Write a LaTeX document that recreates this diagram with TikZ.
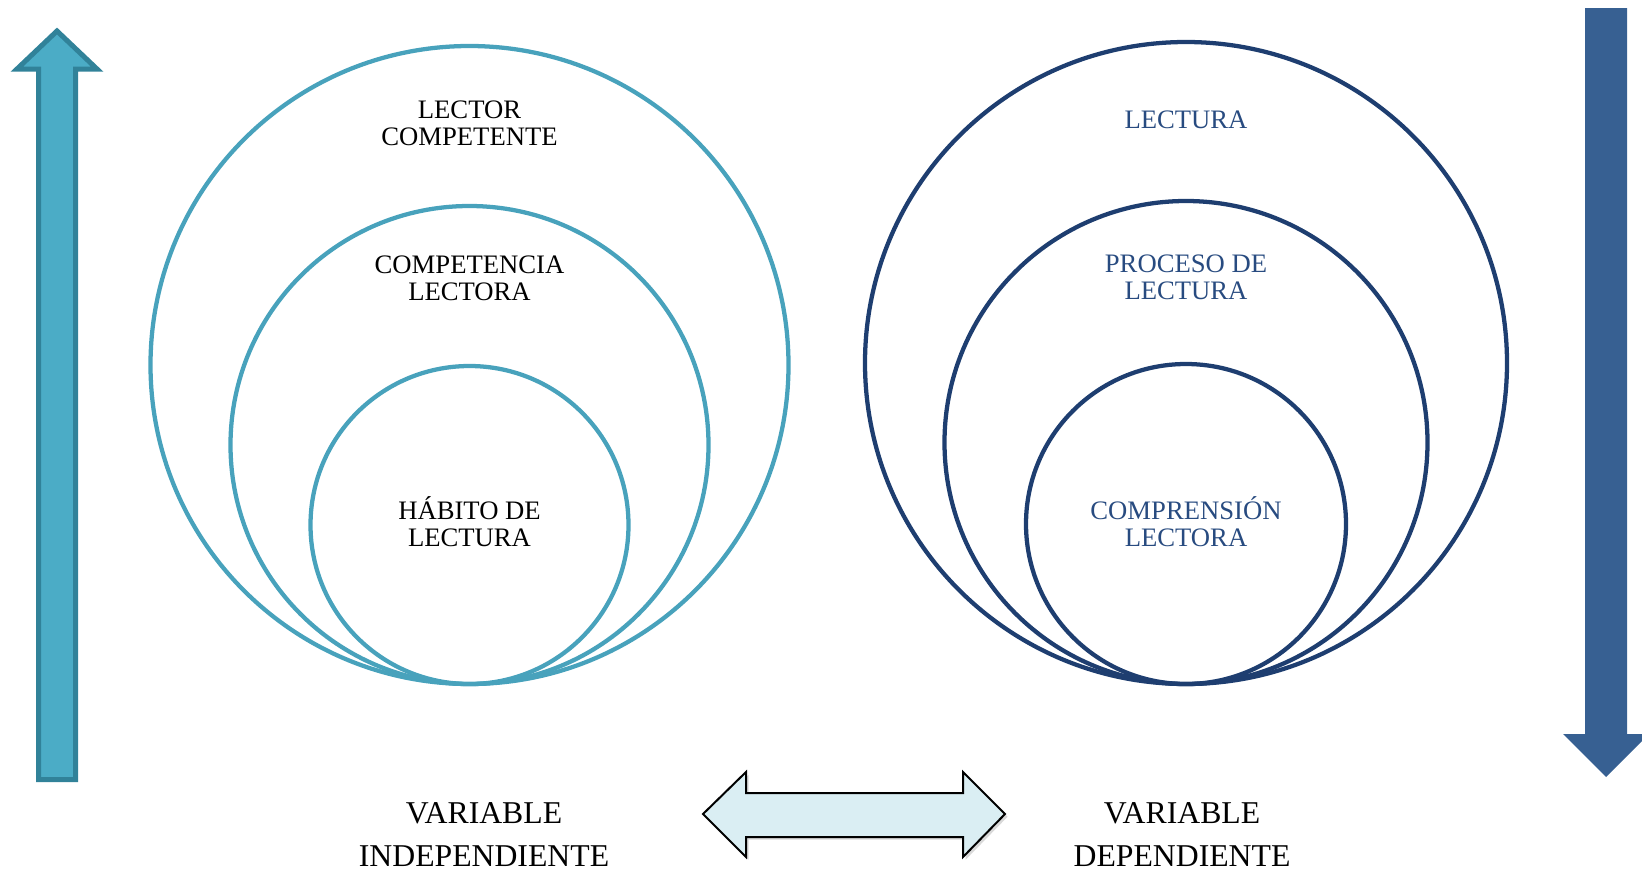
\documentclass[tikz,border=0pt]{standalone}
\usepackage{fontspec}
\setmainfont{Liberation Serif}
\usetikzlibrary{shadows}

\definecolor{ringlight}{RGB}{72,162,188}
\definecolor{ringdark}{RGB}{30,62,112}
\definecolor{txtdark}{RGB}{40,75,128}
\definecolor{uparrowfill}{RGB}{75,172,198}
\definecolor{uparrowline}{RGB}{49,130,153}
\definecolor{downarrowfill}{RGB}{55,96,146}
\definecolor{linkfill}{RGB}{218,238,243}

\begin{document}
\begin{tikzpicture}[x=0.75pt,y=0.75pt,yscale=-1,xscale=1,
  leftring/.style={draw=ringlight,line width=3.2pt},
  rightring/.style={draw=ringdark,line width=3.2pt},
  ringtxt/.style={inner sep=0pt,align=center,font=\fontsize{20}{20.3}\selectfont},
  vartxt/.style={inner sep=0pt,align=center,font=\fontsize{23.8}{32.3}\selectfont}]
\path[use as bounding box] (0,0) rectangle (1642,872);

% Shape: Up Arrow
\draw [draw=uparrowline,fill=uparrowfill,line width=3.75pt,line join=miter]
  (38.5,779.5) -- (38.5,69) -- (17,69) -- (57,31) -- (97,69) -- (75.5,69) -- (75.5,779.5) -- cycle;
% Shape: Down Arrow
\fill [downarrowfill]
  (1585,8) -- (1627,8) -- (1627,734) -- (1649,734) -- (1606,777) -- (1563,734) -- (1585,734) -- cycle;

% Shape: Circle
\draw [leftring] (469.5,365) circle [radius=319];
% Shape: Circle
\draw [leftring] (469.5,445) circle [radius=239];
% Shape: Circle
\draw [leftring] (469.5,525) circle [radius=159];
% Shape: Circle
\draw [rightring] (1186,363) circle [radius=321];
% Shape: Circle
\draw [rightring] (1186,442.5) circle [radius=241.5];
% Shape: Circle
\draw [rightring] (1186,524) circle [radius=160];

% Text Node
\node [ringtxt] (lector) at (469.5,123.5) {LECTOR\\COMPETENTE};
% Text Node
\node [ringtxt] (competencia) at (469.5,278.5) {COMPETENCIA\\LECTORA};
% Text Node
\node [ringtxt] (habito) at (469.5,522) {HÁBITO DE\\LECTURA};
% Text Node
\node [ringtxt,text=txtdark] (lectura) at (1186,120) {LECTURA};
% Text Node
\node [ringtxt,text=txtdark] (proceso) at (1186,277) {PROCESO DE\\LECTURA};
% Text Node
\node [ringtxt,text=txtdark] (comprension) at (1186,522) {COMPRENSIÓN\\LECTORA};

% Shape: Left Right Arrow
\draw [draw=black,fill=linkfill,line width=1.5pt,line join=miter,
  drop shadow={opacity=0.3,shadow xshift=2pt,shadow yshift=-2pt}]
  (703,814) -- (746,772) -- (746,793) -- (963,793) -- (963,772) -- (1005,814)
  -- (963,857) -- (963,837) -- (746,837) -- (746,857) -- cycle;

% Text Node
\node [vartxt] (indep) at (484,835) {VARIABLE\\INDEPENDIENTE};
% Text Node
\node [vartxt] (dep) at (1182,835) {VARIABLE\\DEPENDIENTE};

\end{tikzpicture}
\end{document}
